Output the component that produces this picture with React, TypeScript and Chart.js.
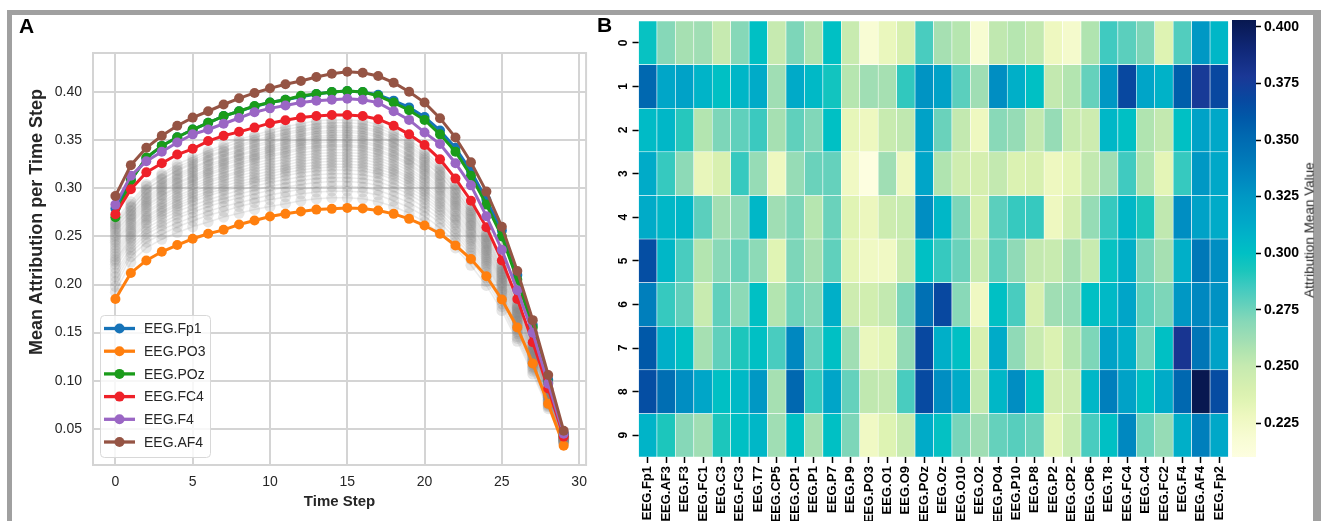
import React, { useEffect, useRef } from 'react';
import { Chart, registerables } from 'chart.js';

Chart.register(...registerables);

const FONT = '"Liberation Sans", Arial, sans-serif';
Chart.defaults.font.family = FONT;

// ---------------- Panel A data ----------------
const timeSteps = [0, 1, 2, 3, 4, 5, 6, 7, 8, 9, 10, 11, 12, 13, 14, 15, 16, 17, 18, 19, 20, 21, 22, 23, 24, 25, 26, 27, 28, 29];
const xTicksA = [0, 5, 10, 15, 20, 25, 30];
const yTicksA = [0.05, 0.1, 0.15, 0.2, 0.25, 0.3, 0.35, 0.4];

const fp1Values = [0.279, 0.309, 0.331, 0.344, 0.353, 0.361, 0.368, 0.375, 0.380, 0.385, 0.389, 0.392, 0.395, 0.398, 0.400, 0.401, 0.400, 0.397, 0.391, 0.384, 0.374, 0.360, 0.342, 0.318, 0.288, 0.256, 0.210, 0.158, 0.101, 0.045];
const po3Values = [0.185, 0.212, 0.225, 0.234, 0.241, 0.2475, 0.2527, 0.2568, 0.2623, 0.2665, 0.2706, 0.2734, 0.2758, 0.2778, 0.2786, 0.2796, 0.279, 0.2768, 0.2734, 0.2682, 0.2613, 0.2527, 0.2406, 0.2265, 0.2085, 0.1844, 0.1554, 0.118, 0.076, 0.0325];
const pozValues = [0.270, 0.308, 0.332, 0.344, 0.353, 0.361, 0.368, 0.375, 0.380, 0.3855, 0.389, 0.392, 0.396, 0.398, 0.400, 0.401, 0.400, 0.396, 0.389, 0.381, 0.371, 0.356, 0.338, 0.313, 0.283, 0.250, 0.205, 0.155, 0.098, 0.044];
const fc4Values = [0.273, 0.299, 0.3165, 0.326, 0.335, 0.341, 0.349, 0.3545, 0.3586, 0.363, 0.3676, 0.3707, 0.3734, 0.375, 0.376, 0.376, 0.375, 0.3717, 0.365, 0.356, 0.345, 0.330, 0.310, 0.287, 0.2595, 0.225, 0.185, 0.140, 0.092, 0.042];
const f4Values = [0.283, 0.313, 0.328, 0.338, 0.3475, 0.356, 0.361, 0.367, 0.373, 0.379, 0.383, 0.386, 0.389, 0.391, 0.392, 0.393, 0.392, 0.389, 0.380, 0.371, 0.358, 0.346, 0.326, 0.303, 0.271, 0.236, 0.194, 0.150, 0.097, 0.045];
const af4Values = [0.292, 0.324, 0.342, 0.3545, 0.365, 0.3734, 0.380, 0.387, 0.3934, 0.399, 0.4038, 0.408, 0.4114, 0.4155, 0.419, 0.421, 0.420, 0.4166, 0.4097, 0.4003, 0.389, 0.3728, 0.3527, 0.327, 0.2965, 0.260, 0.214, 0.163, 0.106, 0.048];

const attrAF3 = [0.251, 0.270, 0.287, 0.298, 0.306, 0.313, 0.320, 0.326, 0.331, 0.335, 0.340, 0.343, 0.347, 0.349, 0.350, 0.350, 0.349, 0.345, 0.339, 0.330, 0.320, 0.306, 0.287, 0.266, 0.240, 0.208, 0.170, 0.130, 0.086, 0.042];
const attrF3 = [0.238, 0.259, 0.276, 0.286, 0.295, 0.302, 0.308, 0.313, 0.318, 0.323, 0.327, 0.330, 0.334, 0.336, 0.337, 0.337, 0.336, 0.332, 0.326, 0.318, 0.308, 0.294, 0.276, 0.256, 0.231, 0.201, 0.163, 0.125, 0.083, 0.040];
const attrFC1 = [0.224, 0.248, 0.264, 0.274, 0.282, 0.288, 0.295, 0.299, 0.304, 0.308, 0.312, 0.316, 0.319, 0.321, 0.322, 0.322, 0.321, 0.317, 0.312, 0.304, 0.294, 0.281, 0.264, 0.245, 0.221, 0.192, 0.156, 0.119, 0.079, 0.039];
const attrC3 = [0.246, 0.266, 0.283, 0.293, 0.302, 0.309, 0.316, 0.321, 0.326, 0.331, 0.335, 0.338, 0.342, 0.344, 0.345, 0.345, 0.344, 0.340, 0.334, 0.326, 0.315, 0.301, 0.283, 0.262, 0.236, 0.205, 0.167, 0.128, 0.085, 0.041];
const attrFC3 = [0.241, 0.262, 0.279, 0.289, 0.298, 0.304, 0.311, 0.316, 0.321, 0.326, 0.330, 0.333, 0.337, 0.339, 0.340, 0.340, 0.339, 0.335, 0.329, 0.321, 0.310, 0.297, 0.279, 0.258, 0.233, 0.202, 0.165, 0.126, 0.083, 0.041];
const attrT7 = [0.262, 0.280, 0.298, 0.309, 0.318, 0.325, 0.332, 0.338, 0.343, 0.348, 0.352, 0.356, 0.359, 0.362, 0.363, 0.363, 0.362, 0.358, 0.351, 0.343, 0.331, 0.317, 0.298, 0.276, 0.249, 0.216, 0.176, 0.134, 0.089, 0.044];
const attrCP5 = [0.203, 0.233, 0.248, 0.257, 0.264, 0.270, 0.276, 0.281, 0.285, 0.289, 0.293, 0.296, 0.299, 0.301, 0.302, 0.302, 0.301, 0.298, 0.292, 0.285, 0.276, 0.264, 0.248, 0.230, 0.207, 0.180, 0.146, 0.112, 0.074, 0.036];
const attrCP1 = [0.258, 0.276, 0.294, 0.304, 0.313, 0.320, 0.328, 0.333, 0.338, 0.343, 0.347, 0.351, 0.354, 0.357, 0.358, 0.358, 0.357, 0.353, 0.347, 0.338, 0.327, 0.313, 0.294, 0.272, 0.245, 0.213, 0.174, 0.132, 0.088, 0.043];
const attrP1 = [0.232, 0.255, 0.271, 0.281, 0.290, 0.296, 0.303, 0.308, 0.313, 0.317, 0.321, 0.324, 0.328, 0.330, 0.331, 0.331, 0.330, 0.326, 0.320, 0.312, 0.302, 0.289, 0.271, 0.252, 0.227, 0.197, 0.161, 0.122, 0.081, 0.040];
const attrP7 = [0.256, 0.273, 0.291, 0.302, 0.311, 0.318, 0.325, 0.330, 0.335, 0.340, 0.344, 0.348, 0.351, 0.354, 0.355, 0.355, 0.354, 0.350, 0.344, 0.335, 0.324, 0.310, 0.291, 0.270, 0.243, 0.211, 0.172, 0.131, 0.087, 0.043];
const attrP9 = [0.208, 0.236, 0.252, 0.261, 0.269, 0.275, 0.281, 0.286, 0.290, 0.294, 0.298, 0.301, 0.304, 0.306, 0.307, 0.307, 0.306, 0.303, 0.297, 0.290, 0.280, 0.268, 0.252, 0.233, 0.210, 0.183, 0.149, 0.114, 0.075, 0.037];
const attrO1 = [0.198, 0.229, 0.244, 0.252, 0.260, 0.266, 0.272, 0.276, 0.281, 0.285, 0.288, 0.291, 0.294, 0.296, 0.297, 0.297, 0.296, 0.293, 0.287, 0.280, 0.271, 0.259, 0.244, 0.226, 0.203, 0.177, 0.144, 0.110, 0.073, 0.036];
const attrO9 = [0.192, 0.223, 0.238, 0.247, 0.254, 0.260, 0.265, 0.270, 0.274, 0.278, 0.281, 0.284, 0.287, 0.289, 0.290, 0.290, 0.289, 0.286, 0.281, 0.274, 0.265, 0.253, 0.238, 0.220, 0.199, 0.173, 0.141, 0.107, 0.071, 0.035];
const attrOz = [0.260, 0.277, 0.295, 0.306, 0.315, 0.322, 0.329, 0.335, 0.340, 0.345, 0.349, 0.353, 0.356, 0.359, 0.360, 0.360, 0.359, 0.355, 0.348, 0.340, 0.329, 0.314, 0.295, 0.274, 0.247, 0.214, 0.175, 0.133, 0.088, 0.043];
const attrO10 = [0.226, 0.250, 0.267, 0.276, 0.284, 0.291, 0.297, 0.302, 0.307, 0.311, 0.315, 0.319, 0.322, 0.324, 0.325, 0.325, 0.324, 0.320, 0.315, 0.307, 0.297, 0.284, 0.267, 0.247, 0.223, 0.193, 0.158, 0.120, 0.080, 0.039];
const attrO2 = [0.212, 0.239, 0.255, 0.264, 0.272, 0.278, 0.285, 0.289, 0.294, 0.298, 0.302, 0.305, 0.308, 0.310, 0.311, 0.311, 0.310, 0.307, 0.301, 0.294, 0.284, 0.272, 0.255, 0.236, 0.213, 0.185, 0.151, 0.115, 0.076, 0.037];
const attrPO4 = [0.235, 0.257, 0.274, 0.284, 0.292, 0.299, 0.306, 0.311, 0.316, 0.320, 0.324, 0.327, 0.331, 0.333, 0.334, 0.334, 0.333, 0.329, 0.323, 0.315, 0.305, 0.292, 0.274, 0.254, 0.229, 0.199, 0.162, 0.124, 0.082, 0.040];
const attrP10 = [0.229, 0.253, 0.269, 0.279, 0.287, 0.294, 0.300, 0.305, 0.310, 0.314, 0.318, 0.321, 0.325, 0.327, 0.328, 0.328, 0.327, 0.323, 0.318, 0.310, 0.299, 0.286, 0.269, 0.249, 0.225, 0.195, 0.159, 0.121, 0.080, 0.039];
const attrP8 = [0.217, 0.243, 0.258, 0.268, 0.276, 0.282, 0.288, 0.293, 0.298, 0.302, 0.306, 0.309, 0.312, 0.314, 0.315, 0.315, 0.314, 0.311, 0.305, 0.297, 0.288, 0.275, 0.258, 0.239, 0.216, 0.187, 0.153, 0.117, 0.077, 0.038];
const attrP2 = [0.221, 0.246, 0.262, 0.271, 0.279, 0.286, 0.292, 0.297, 0.301, 0.306, 0.309, 0.313, 0.316, 0.318, 0.319, 0.319, 0.318, 0.315, 0.309, 0.301, 0.291, 0.278, 0.262, 0.242, 0.219, 0.190, 0.155, 0.118, 0.078, 0.038];
const attrCP2 = [0.244, 0.264, 0.281, 0.292, 0.300, 0.307, 0.314, 0.319, 0.324, 0.329, 0.333, 0.336, 0.340, 0.342, 0.343, 0.343, 0.342, 0.338, 0.332, 0.324, 0.313, 0.299, 0.281, 0.261, 0.235, 0.204, 0.166, 0.127, 0.084, 0.041];
const attrCP6 = [0.249, 0.268, 0.285, 0.296, 0.305, 0.311, 0.318, 0.324, 0.329, 0.333, 0.338, 0.341, 0.345, 0.347, 0.348, 0.348, 0.347, 0.343, 0.337, 0.329, 0.318, 0.304, 0.285, 0.264, 0.238, 0.207, 0.169, 0.129, 0.085, 0.042];
const attrT8 = [0.263, 0.281, 0.299, 0.310, 0.319, 0.327, 0.334, 0.339, 0.345, 0.350, 0.354, 0.358, 0.361, 0.364, 0.365, 0.365, 0.364, 0.360, 0.353, 0.345, 0.333, 0.319, 0.299, 0.277, 0.250, 0.217, 0.177, 0.135, 0.089, 0.044];
const attrC4 = [0.254, 0.272, 0.289, 0.300, 0.309, 0.316, 0.323, 0.328, 0.334, 0.338, 0.342, 0.346, 0.349, 0.352, 0.353, 0.353, 0.352, 0.348, 0.342, 0.333, 0.322, 0.308, 0.289, 0.268, 0.242, 0.210, 0.171, 0.131, 0.086, 0.042];
const attrFC2 = [0.265, 0.283, 0.302, 0.313, 0.322, 0.329, 0.337, 0.342, 0.348, 0.353, 0.357, 0.361, 0.364, 0.367, 0.368, 0.368, 0.367, 0.363, 0.356, 0.347, 0.336, 0.321, 0.302, 0.280, 0.252, 0.219, 0.178, 0.136, 0.090, 0.044];
const attrFp2 = [0.267, 0.286, 0.304, 0.315, 0.325, 0.332, 0.339, 0.345, 0.351, 0.355, 0.360, 0.364, 0.367, 0.370, 0.371, 0.371, 0.370, 0.366, 0.359, 0.350, 0.339, 0.324, 0.304, 0.282, 0.254, 0.221, 0.180, 0.137, 0.091, 0.045];

const highlighted = [
  { name: 'EEG.Fp1', color: '#1673b8', values: fp1Values },
  { name: 'EEG.PO3', color: '#ff7f0e', values: po3Values },
  { name: 'EEG.POz', color: '#1a9c1a', values: pozValues },
  { name: 'EEG.FC4', color: '#ee2129', values: fc4Values },
  { name: 'EEG.F4', color: '#9a66c4', values: f4Values },
  { name: 'EEG.AF4', color: '#955444', values: af4Values },
];

const others = [
  { name: 'EEG.AF3', values: attrAF3 }, { name: 'EEG.F3', values: attrF3 }, { name: 'EEG.FC1', values: attrFC1 },
  { name: 'EEG.C3', values: attrC3 }, { name: 'EEG.FC3', values: attrFC3 }, { name: 'EEG.T7', values: attrT7 },
  { name: 'EEG.CP5', values: attrCP5 }, { name: 'EEG.CP1', values: attrCP1 }, { name: 'EEG.P1', values: attrP1 },
  { name: 'EEG.P7', values: attrP7 }, { name: 'EEG.P9', values: attrP9 }, { name: 'EEG.O1', values: attrO1 },
  { name: 'EEG.O9', values: attrO9 }, { name: 'EEG.Oz', values: attrOz }, { name: 'EEG.O10', values: attrO10 },
  { name: 'EEG.O2', values: attrO2 }, { name: 'EEG.PO4', values: attrPO4 }, { name: 'EEG.P10', values: attrP10 },
  { name: 'EEG.P8', values: attrP8 }, { name: 'EEG.P2', values: attrP2 }, { name: 'EEG.CP2', values: attrCP2 },
  { name: 'EEG.CP6', values: attrCP6 }, { name: 'EEG.T8', values: attrT8 }, { name: 'EEG.C4', values: attrC4 },
  { name: 'EEG.FC2', values: attrFC2 }, { name: 'EEG.Fp2', values: attrFp2 },
];

// ---------------- Panel B data ----------------
const channels = ['EEG.Fp1', 'EEG.AF3', 'EEG.F3', 'EEG.FC1', 'EEG.C3', 'EEG.FC3', 'EEG.T7', 'EEG.CP5', 'EEG.CP1', 'EEG.P1', 'EEG.P7', 'EEG.P9', 'EEG.PO3', 'EEG.O1', 'EEG.O9', 'EEG.POz', 'EEG.Oz', 'EEG.O10', 'EEG.O2', 'EEG.PO4', 'EEG.P10', 'EEG.P8', 'EEG.P2', 'EEG.CP2', 'EEG.CP6', 'EEG.T8', 'EEG.FC4', 'EEG.C4', 'EEG.FC2', 'EEG.F4', 'EEG.AF4', 'EEG.Fp2'];
const rowLabels = ['0', '1', '2', '3', '4', '5', '6', '7', '8', '9'];

const heatRow0 = [0.298, 0.270, 0.260, 0.262, 0.250, 0.270, 0.300, 0.250, 0.272, 0.257, 0.300, 0.249, 0.218, 0.230, 0.240, 0.283, 0.260, 0.255, 0.219, 0.252, 0.255, 0.251, 0.228, 0.222, 0.257, 0.285, 0.279, 0.272, 0.236, 0.281, 0.325, 0.305];
const heatRow1 = [0.352, 0.315, 0.318, 0.307, 0.300, 0.306, 0.312, 0.262, 0.313, 0.304, 0.295, 0.255, 0.262, 0.260, 0.288, 0.327, 0.318, 0.279, 0.262, 0.330, 0.310, 0.300, 0.251, 0.256, 0.277, 0.325, 0.368, 0.316, 0.308, 0.357, 0.377, 0.368];
const heatRow2 = [0.303, 0.305, 0.290, 0.256, 0.272, 0.278, 0.286, 0.260, 0.278, 0.271, 0.300, 0.232, 0.228, 0.249, 0.252, 0.318, 0.276, 0.251, 0.228, 0.269, 0.265, 0.251, 0.265, 0.249, 0.246, 0.305, 0.300, 0.257, 0.251, 0.300, 0.318, 0.314];
const heatRow3 = [0.312, 0.287, 0.268, 0.231, 0.240, 0.287, 0.265, 0.228, 0.265, 0.276, 0.277, 0.226, 0.210, 0.262, 0.228, 0.316, 0.257, 0.245, 0.241, 0.251, 0.238, 0.240, 0.228, 0.233, 0.251, 0.262, 0.285, 0.257, 0.233, 0.287, 0.325, 0.314];
const heatRow4 = [0.312, 0.305, 0.305, 0.279, 0.261, 0.267, 0.305, 0.262, 0.272, 0.255, 0.276, 0.235, 0.229, 0.246, 0.249, 0.330, 0.305, 0.272, 0.240, 0.279, 0.287, 0.287, 0.228, 0.243, 0.265, 0.287, 0.305, 0.292, 0.252, 0.330, 0.318, 0.312];
const heatRow5 = [0.365, 0.305, 0.283, 0.256, 0.269, 0.276, 0.268, 0.235, 0.272, 0.260, 0.278, 0.233, 0.226, 0.226, 0.248, 0.300, 0.287, 0.276, 0.249, 0.278, 0.267, 0.251, 0.249, 0.260, 0.249, 0.298, 0.310, 0.273, 0.260, 0.310, 0.342, 0.330];
const heatRow6 = [0.338, 0.287, 0.278, 0.249, 0.278, 0.268, 0.300, 0.256, 0.275, 0.270, 0.310, 0.246, 0.244, 0.251, 0.272, 0.347, 0.368, 0.269, 0.227, 0.300, 0.283, 0.240, 0.262, 0.265, 0.300, 0.304, 0.316, 0.278, 0.272, 0.325, 0.333, 0.328];
const heatRow7 = [0.360, 0.310, 0.300, 0.260, 0.278, 0.292, 0.300, 0.283, 0.333, 0.277, 0.300, 0.262, 0.230, 0.234, 0.266, 0.368, 0.310, 0.300, 0.240, 0.312, 0.267, 0.249, 0.238, 0.255, 0.272, 0.318, 0.310, 0.273, 0.300, 0.380, 0.343, 0.318];
const heatRow8 = [0.365, 0.348, 0.330, 0.315, 0.300, 0.304, 0.325, 0.260, 0.352, 0.287, 0.316, 0.277, 0.252, 0.251, 0.283, 0.367, 0.330, 0.312, 0.251, 0.305, 0.330, 0.300, 0.243, 0.246, 0.305, 0.338, 0.318, 0.300, 0.312, 0.352, 0.403, 0.366];
const heatRow9 = [0.307, 0.292, 0.270, 0.262, 0.292, 0.300, 0.305, 0.262, 0.300, 0.260, 0.300, 0.272, 0.226, 0.236, 0.249, 0.312, 0.299, 0.273, 0.262, 0.277, 0.280, 0.276, 0.233, 0.249, 0.283, 0.300, 0.333, 0.275, 0.265, 0.310, 0.338, 0.314];
const heatRows = [heatRow0, heatRow1, heatRow2, heatRow3, heatRow4, heatRow5, heatRow6, heatRow7, heatRow8, heatRow9];

const cbarTicks = [0.225, 0.25, 0.275, 0.3, 0.325, 0.35, 0.375, 0.4];

// ---------------- colour map (style) ----------------
const cmapStops: [number, string][] = [
  [0.210, '#fdfee0'], [0.218, '#f8fcd4'], [0.228, '#eef8c0'], [0.235, '#e0f4b4'], [0.240, '#d8f0b0'],
  [0.250, '#c6eab0'], [0.257, '#b0e4b0'], [0.262, '#a0deb4'], [0.270, '#86d8b8'], [0.278, '#60d0bc'],
  [0.285, '#40cac0'], [0.292, '#1cc6bc'], [0.300, '#00c0c4'], [0.307, '#00b4c8'], [0.315, '#00a6c8'],
  [0.325, '#0098c4'], [0.333, '#0088c0'], [0.342, '#0078b8'], [0.352, '#0068b0'], [0.360, '#0058a8'],
  [0.368, '#0848a0'], [0.378, '#1a3896'], [0.390, '#102878'], [0.403, '#081850'],
];

function hexRgb(h: string) {
  const n = parseInt(h.slice(1), 16);
  return [(n >> 16) & 255, (n >> 8) & 255, n & 255];
}
function colorFor(v: number) {
  if (v <= cmapStops[0][0]) return cmapStops[0][1];
  for (let i = 1; i < cmapStops.length; i++) {
    const [v1, c1] = cmapStops[i];
    if (v <= v1) {
      const [v0, c0] = cmapStops[i - 1];
      const t = (v - v0) / (v1 - v0);
      const a = hexRgb(c0);
      const b = hexRgb(c1);
      const m = a.map((x, k) => Math.round(x + (b[k] - x) * t));
      return `rgb(${m[0]},${m[1]},${m[2]})`;
    }
  }
  return cmapStops[cmapStops.length - 1][1];
}

const allHeat = heatRows.flat();
const cbarMin = Math.min(...allHeat);
const cbarMax = Math.max(...allHeat);

const GRID = '#d4d4d4';
const TEXT = '#262626';

const framePlugin = {
  id: 'frameA',
  beforeDatasetsDraw(chart: any) {
    const { ctx, chartArea: a } = chart;
    ctx.save();
    ctx.strokeStyle = GRID;
    ctx.lineWidth = 2;
    ctx.strokeRect(a.left, a.top, a.right - a.left, a.bottom - a.top);
    ctx.restore();
  },
};

const legendPlugin = {
  id: 'boxLegend',
  afterDraw(chart: any) {
    const { ctx, chartArea } = chart;
    const left = chartArea.left + 7;
    const bottom = chartArea.bottom - 8;
    const w = 110;
    const h = 142;
    const top = bottom - h;
    ctx.save();
    ctx.beginPath();
    ctx.roundRect(left + 0.5, top + 0.5, w, h, 4);
    ctx.fillStyle = 'rgba(255,255,255,0.8)';
    ctx.fill();
    ctx.strokeStyle = '#d8d8d8';
    ctx.lineWidth = 1;
    ctx.stroke();
    highlighted.forEach((s, i) => {
      const cy = top + 13.5 + i * 22.7;
      ctx.strokeStyle = s.color;
      ctx.lineWidth = 3.3;
      ctx.beginPath();
      ctx.moveTo(left + 4, cy);
      ctx.lineTo(left + 35, cy);
      ctx.stroke();
      ctx.fillStyle = s.color;
      ctx.beginPath();
      ctx.arc(left + 19.5, cy, 5, 0, Math.PI * 2);
      ctx.fill();
      ctx.fillStyle = TEXT;
      ctx.font = `14px ${FONT}`;
      ctx.textAlign = 'left';
      ctx.textBaseline = 'middle';
      ctx.fillText(s.name, left + 44, cy + 1);
    });
    ctx.restore();
  },
};

const gradientPlugin = {
  id: 'cbarGradient',
  beforeDatasetsDraw(chart: any) {
    const { ctx, chartArea: a, scales } = chart;
    const y = scales.y;
    const yTop = y.getPixelForValue(cbarMax);
    const yBot = y.getPixelForValue(cbarMin);
    const g = ctx.createLinearGradient(0, yBot, 0, yTop);
    g.addColorStop(0, colorFor(cbarMin));
    cmapStops.forEach(([v]) => {
      const t = (v - cbarMin) / (cbarMax - cbarMin);
      if (t > 0 && t < 1) g.addColorStop(t, colorFor(v));
    });
    g.addColorStop(1, colorFor(cbarMax));
    ctx.save();
    ctx.fillStyle = g;
    ctx.fillRect(a.left, yTop, a.right - a.left, yBot - yTop);
    ctx.restore();
  },
};

export default function App() {
  const refA = useRef<HTMLCanvasElement>(null);
  const refB = useRef<HTMLCanvasElement>(null);
  const refC = useRef<HTMLCanvasElement>(null);

  useEffect(() => {
    const grayDatasets = others.map((s) => ({
      label: s.name,
      data: s.values.map((v, i) => ({ x: timeSteps[i], y: v })),
      borderColor: 'rgba(128,128,128,0.16)',
      borderWidth: 1.5,
      pointRadius: 5.5,
      pointBorderWidth: 0,
      pointBackgroundColor: 'rgba(128,128,128,0.2)',
      backgroundColor: 'rgba(128,128,128,0.2)',
      order: 100,
    }));
    const colorDatasets = highlighted.map((s, i) => ({
      label: s.name,
      data: s.values.map((v, k) => ({ x: timeSteps[k], y: v })),
      borderColor: s.color,
      backgroundColor: s.color,
      pointBackgroundColor: s.color,
      pointBorderWidth: 0,
      pointRadius: 5,
      borderWidth: 3,
      order: 10 - i,
    }));

    const chartA = new Chart(refA.current!, {
      type: 'line',
      data: { datasets: [...grayDatasets, ...colorDatasets] as any },
      options: {
        responsive: false,
        animation: false,
        events: [],
        layout: { padding: { top: 53, right: 6, bottom: 0, left: 0 } },
        plugins: { legend: { display: false }, tooltip: { enabled: false } },
        scales: {
          x: {
            type: 'linear',
            min: -1.45,
            max: 30.45,
            afterBuildTicks: (s: any) => { s.ticks = xTicksA.map((v) => ({ value: v })); },
            afterFit: (s: any) => { s.height = 56; },
            grid: { color: GRID, lineWidth: 2, drawTicks: false },
            border: { display: false },
            ticks: { color: TEXT, font: { size: 14 }, padding: 9, callback: (v: any) => String(v) },
            title: { display: true, text: 'Time Step', color: TEXT, font: { size: 15, weight: 'bold' }, padding: { top: 0, bottom: 10 } },
          },
          y: {
            type: 'linear',
            min: 0.0125,
            max: 0.4405,
            afterBuildTicks: (s: any) => { s.ticks = yTicksA.map((v) => ({ value: v })); },
            afterFit: (s: any) => { s.width = 93; },
            grid: { color: GRID, lineWidth: 2, drawTicks: false },
            border: { display: false },
            ticks: { color: TEXT, font: { size: 14 }, padding: 11, callback: (v: any) => Number(v).toFixed(2) },
          },
        },
      },
      plugins: [framePlugin, legendPlugin],
    });

    const heatDatasets = heatRows.map((row, r) => ({
      label: rowLabels[r],
      data: row.map(() => [r, r + 1]),
      backgroundColor: row.map((v) => colorFor(v)),
      borderColor: '#ffffff',
      borderWidth: 0.6,
      borderSkipped: false,
      barPercentage: 1,
      categoryPercentage: 1,
      grouped: false,
    }));

    const chartB = new Chart(refB.current!, {
      type: 'bar',
      data: { labels: channels, datasets: heatDatasets as any },
      options: {
        responsive: false,
        animation: false,
        events: [],
        layout: { padding: { top: 21, right: 8, bottom: 0, left: 0 } },
        plugins: { legend: { display: false }, tooltip: { enabled: false } },
        scales: {
          x: {
            type: 'category',
            afterFit: (s: any) => { s.height = 64; },
            grid: { offset: false, drawOnChartArea: false, drawTicks: true, tickLength: 6, tickColor: '#000', tickWidth: 1.5 },
            border: { display: false },
            ticks: { autoSkip: false, minRotation: 90, maxRotation: 90, color: '#000', font: { size: 13, weight: 'bold' }, padding: 3 },
          },
          y: {
            type: 'linear',
            min: 0,
            max: 10,
            reverse: true,
            afterBuildTicks: (s: any) => { s.ticks = rowLabels.map((_, i) => ({ value: i + 0.5 })); },
            afterFit: (s: any) => { s.width = 42.5; },
            grid: { drawOnChartArea: false, drawTicks: true, tickLength: 6, tickColor: '#000', tickWidth: 1.5 },
            border: { display: false },
            ticks: {
              minRotation: 90,
              maxRotation: 90,
              crossAlign: 'center',
              color: '#000',
              font: { size: 12, weight: 'bold' },
              padding: 5,
              callback: (v: any) => rowLabels[Math.floor(Number(v))],
            },
          },
        },
      },
    });

    const chartC = new Chart(refC.current!, {
      type: 'bar',
      data: { labels: [''], datasets: [] },
      options: {
        responsive: false,
        animation: false,
        events: [],
        layout: { padding: { top: 20, right: 0, bottom: 64, left: 6 } },
        plugins: { legend: { display: false }, tooltip: { enabled: false } },
        scales: {
          x: { display: false },
          y: {
            type: 'linear',
            position: 'right',
            min: cbarMin,
            max: cbarMax,
            afterBuildTicks: (s: any) => { s.ticks = cbarTicks.map((v) => ({ value: v })); },
            afterFit: (s: any) => { s.width = 65; },
            grid: { drawOnChartArea: false, drawTicks: true, tickLength: 5, tickColor: '#000', tickWidth: 1.5 },
            border: { display: false },
            ticks: { color: '#000', font: { size: 14, weight: 'bold' }, padding: 3, callback: (v: any) => Number(v).toFixed(3) },
          },
        },
      },
      plugins: [gradientPlugin],
    });

    return () => {
      chartA.destroy();
      chartB.destroy();
      chartC.destroy();
    };
  }, []);

  const abs = (l: number, t: number): React.CSSProperties => ({ position: 'absolute', left: l, top: t });

  return (
    <div style={{ position: 'absolute', left: 0, top: 0, width: 1321, height: 521, overflow: 'hidden', background: '#fff', fontFamily: FONT }}>
      <div style={{ position: 'absolute', left: 7, top: 10, width: 1314, height: 600, boxSizing: 'border-box', borderStyle: 'solid', borderColor: '#a0a0a0', borderWidth: '5px 8px 5px 5px' }} />
      <canvas ref={refA} width={596} height={521} style={{ ...abs(0, 0), display: 'block' }} />
      <canvas ref={refB} width={642} height={521} style={{ ...abs(596, 0), display: 'block' }} />
      <canvas ref={refC} width={95} height={521} style={{ ...abs(1226, 0), display: 'block' }} />
      <div style={{ ...abs(19, 15), fontSize: 21, lineHeight: '21px', fontWeight: 'bold', color: '#000' }}>A</div>
      <div style={{ ...abs(597, 14), fontSize: 21, lineHeight: '21px', fontWeight: 'bold', color: '#000' }}>B</div>
      <div
        style={{
          position: 'absolute',
          left: 36,
          top: 222,
          transform: 'translate(-50%, -50%) rotate(-90deg)',
          whiteSpace: 'nowrap',
          fontSize: 18,
          lineHeight: '20px',
          fontWeight: 'bold',
          color: TEXT,
        }}
      >
        Mean Attribution per Time Step
      </div>
      <div
        style={{
          position: 'absolute',
          left: 1309,
          top: 230,
          transform: 'translate(-50%, -50%) rotate(-90deg)',
          whiteSpace: 'nowrap',
          fontSize: 13.5,
          lineHeight: '15px',
          color: '#222',
        }}
      >
        Attribution Mean Value
      </div>
    </div>
  );
}
